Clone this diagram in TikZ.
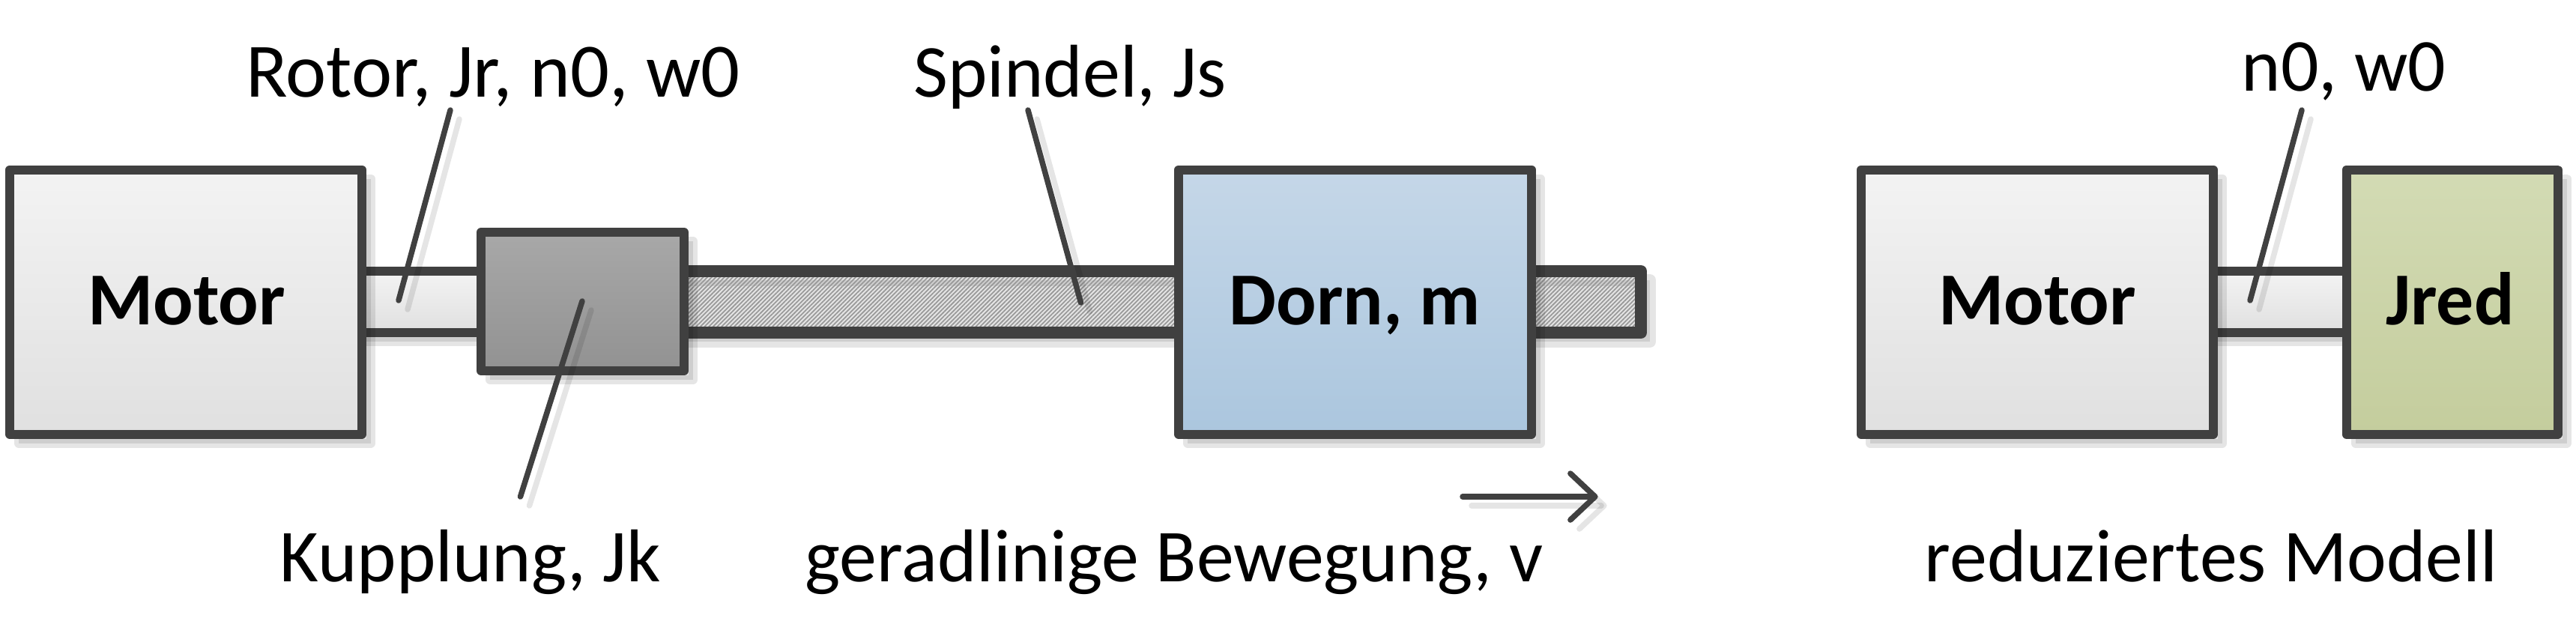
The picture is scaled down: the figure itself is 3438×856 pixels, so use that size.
\documentclass[tikz,border=0pt]{standalone}
\usepackage{fontspec}
\setmainfont{Carlito}
\usetikzlibrary{arrows.meta, patterns.meta, shadows}
\definecolor{LineGray}{HTML}{404040}
\definecolor{MotorTop}{HTML}{F3F3F3}
\definecolor{MotorBottom}{HTML}{E0E0E0}
\definecolor{CouplingTop}{HTML}{A8A8A8}
\definecolor{CouplingBottom}{HTML}{929292}
\definecolor{DornTop}{HTML}{C5D7E8}
\definecolor{DornBottom}{HTML}{ABC6DE}
\definecolor{JredTop}{HTML}{D3DBB4}
\definecolor{JredBottom}{HTML}{C4CD9D}
\tikzset{
    castshadow/.style={
        general shadow={shadow xshift=1.2mm, shadow yshift=-1.2mm, draw=black, line width=#1, line cap=round, opacity=0.1}
    },
    castshadowfill/.style={
        general shadow={shadow xshift=1.2mm, shadow yshift=-1.2mm, draw=black, fill=black, line width=#1, line join=round, opacity=0.1}
    },
    block/.style 2 args={
        draw=LineGray,
        line width=1.2mm,
        line join=round,
        outer sep=0pt,
        inner sep=0pt,
        top color=#1,
        bottom color=#2,
        castshadowfill=1.2mm,
        anchor=north west
    },
    rod/.style={
        draw=LineGray,
        line join=round,
        outer sep=0pt,
        inner sep=0pt,
        anchor=north west,
        line width=#1,
        castshadowfill=#1
    },
    caption/.style={
        font=\fontsize{28.4}{34}\selectfont,
        inner sep=0pt,
        anchor=base
    },
    blocklabel/.style={
        font=\fontsize{28.4}{34}\selectfont\bfseries,
        inner sep=0pt,
        anchor=base
    },
    leader/.style={
        draw=LineGray,
        line width=0.75mm,
        line cap=round,
        castshadow=0.75mm
    },
    motion/.style={
        leader,
        line join=round,
        -{Straight Barb[length=3.3mm,width=6.2mm,round]}
    }
}
\begin{document}
\begin{tikzpicture}[x=0.1mm, y=-0.1mm]
        \useasboundingbox (0,0) rectangle (3438,856);

        % shafts go first, the blocks sit on top of them
        \node[rod=1.6mm, pattern={Lines[angle=45, distance=0.4mm, line width=0.18mm]}, pattern color=black!40, minimum width=149mm, minimum height=8.2mm] (spindle) at (700,362) {};
        \node[rod=1.25mm, top color=MotorTop, bottom color=MotorBottom, minimum width=19mm, minimum height=8.2mm] (rotor) at (470,362) {};
        \node[rod=1.25mm, top color=MotorTop, bottom color=MotorBottom, minimum width=21mm, minimum height=8.2mm] (rotorred) at (2945,362) {};

        \node[block={MotorTop}{MotorBottom}, minimum width=47mm, minimum height=35.3mm] (motor) at (13,226.5) {};
        \node[block={CouplingTop}{CouplingBottom}, minimum width=27.1mm, minimum height=18.5mm] (coupling) at (642,310) {};
        \node[block={DornTop}{DornBottom}, minimum width=47.1mm, minimum height=35.3mm] (dorn) at (1573,226.5) {};
        \node[block={MotorTop}{MotorBottom}, minimum width=47mm, minimum height=35.3mm] (motorred) at (2484,226.5) {};
        \node[block={JredTop}{JredBottom}, minimum width=28.2mm, minimum height=35.3mm] (jred) at (3131.5,226.5) {};

        \node[blocklabel] (motortext) at (249,433) {Motor};
        \node[blocklabel] (dorntext) at (1808,433) {Dorn, m};
        \node[blocklabel] (motorredtext) at (2719,433) {Motor};
        \node[blocklabel] (jredtext) at (3270,433) {Jred};

        \node[caption, font=\fontsize{29.2}{34}\selectfont] (rotortext) at (658,129) {Rotor, Jr, n0, w0};
        \node[caption] (spindletext) at (1428,129) {Spindel, Js};
        \node[caption] (speedtext) at (3128,121) {n0, w0};
        \node[caption] (couplingtext) at (628,776) {Kupplung, Jk};
        \node[caption] (motiontext) at (1567,776) {geradlinige Bewegung, v};
        \node[caption] (reducedtext) at (2951,776) {reduziertes Modell};

        % leader ends
        \coordinate (rotortop) at (601,147);
        \coordinate (rotorend) at (532,401);
        \coordinate (couplingend) at (777,402);
        \coordinate (couplingbottom) at (694.5,663);
        \coordinate (spindletop) at (1372,147);
        \coordinate (spindleend) at (1442.5,404);
        \coordinate (speedtop) at (3072,147);
        \coordinate (speedend) at (3003,401);
        \coordinate (motionstart) at (1952,663);
        \coordinate (motionend) at (2132.6,663);

        \draw[leader] (rotortop) -- (rotorend);
        \draw[leader] (couplingend) -- (couplingbottom);
        \draw[leader] (spindletop) -- (spindleend);
        \draw[leader] (speedtop) -- (speedend);
        \draw[motion] (motionstart) -- (motionend);
    \end{tikzpicture}
\end{document}
